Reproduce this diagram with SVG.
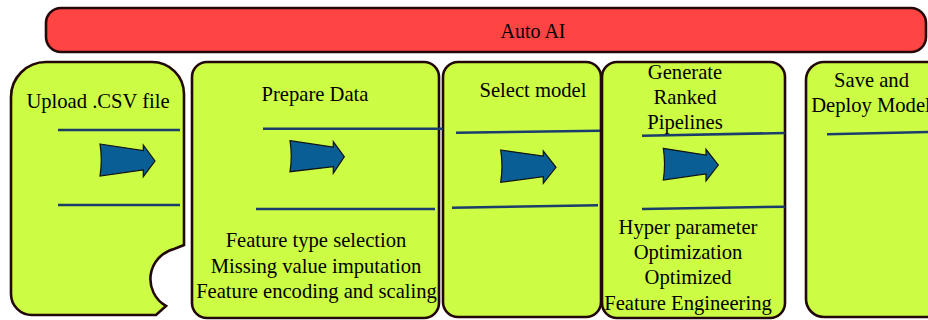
<svg xmlns="http://www.w3.org/2000/svg" width="928" height="320" viewBox="0 0 928 320">
<defs>
<style>
.box{fill:#ccfd44;stroke:#220808;stroke-width:2.6}
.bar{fill:#ff4444;stroke:#220808;stroke-width:2.6}
.t{font-family:"Liberation Serif","Times New Roman",serif;font-size:20.6px;fill:#000;text-anchor:middle}
.ln{stroke:#1b3d6b;stroke-width:2.6;fill:none}
.ar{fill:#0a5e96;stroke:#111;stroke-width:1.2}
</style>
</defs>
<rect width="928" height="320" fill="#fff"/>
<g id="autoai">
<rect class="bar" x="46" y="8" width="880" height="44" rx="15"/>
<text class="t" x="533" y="38" style="font-size:20px">Auto AI</text>
</g>
<g id="upload">
<path class="box" d="M11,97 A35,35 0 0 1 46,62 L152,62 A32,32 0 0 1 184,94 L184,245 L174,249 A31,31 0 0 0 166,306 L156,315 L32,315 A21,21 0 0 1 11,294 Z"/>
<text class="t" x="98" y="108">Upload .CSV file</text>
</g>
<g id="prepare">
<rect class="box" x="192" y="62" width="247" height="256" rx="15"/>
<text class="t" x="315" y="101">Prepare Data</text>
<text class="t" x="316" y="247">Feature type selection</text>
<text class="t" x="316" y="273">Missing value imputation</text>
<text class="t" x="316.5" y="298">Feature encoding and scaling</text>
</g>
<g id="select">
<rect class="box" x="443" y="62" width="158" height="255" rx="15"/>
<text class="t" x="533" y="97">Select model</text>
</g>
<g id="generate">
<rect class="box" x="602" y="62" width="183" height="256" rx="15"/>
<text class="t" x="685" y="79">Generate</text>
<text class="t" x="685" y="104">Ranked</text>
<text class="t" x="685" y="129">Pipelines</text>
<text class="t" x="688" y="234">Hyper parameter</text>
<text class="t" x="688" y="259">Optimization</text>
<text class="t" x="688" y="284">Optimized</text>
<text class="t" x="688" y="309.5">Feature Engineering</text>
</g>
<g id="save">
<rect class="box" x="806" y="62" width="150" height="255" rx="18"/>
<text class="t" x="871.5" y="87">Save and</text>
<text class="t" x="871" y="112">Deploy Model</text>
</g>
<g id="connectors">
<line class="ln" x1="58" y1="130" x2="180" y2="130"/>
<line class="ln" x1="58" y1="205" x2="180" y2="205"/>
<line class="ln" x1="263" y1="128.7" x2="443" y2="128.7"/>
<line class="ln" x1="256" y1="209" x2="435" y2="209"/>
<line class="ln" x1="456" y1="132.7" x2="600" y2="130.7"/>
<line class="ln" x1="452" y1="207.7" x2="598" y2="205.3"/>
<line class="ln" x1="642" y1="135.7" x2="785" y2="133"/>
<line class="ln" x1="642" y1="209" x2="785" y2="206.7"/>
<line class="ln" x1="827" y1="134.3" x2="928" y2="132"/>
<path class="ar" d="M100,144 L143.3,150.5 L143.3,145 L155,161 L143.3,176.7 L143.3,170 L100,176 Q102.5,160 100,144 Z"/>
<path class="ar" d="M290,140.7 L333.3,147 L333.3,141.7 L344.3,156.7 L333.3,173.3 L333.3,166.7 L290,171.7 Q292.5,156 290,140.7 Z"/>
<path class="ar" d="M500.7,150 L543.3,156 L543.3,151 L556,167.3 L543.3,183.3 L543.3,176.7 L500.7,182.3 Q503.2,166 500.7,150 Z"/>
<path class="ar" d="M663.3,148.3 L706,155 L706,149.3 L718.3,165 L706,181 L706,174 L663.3,180 Q665.8,164 663.3,148.3 Z"/>
</g>
</svg>
